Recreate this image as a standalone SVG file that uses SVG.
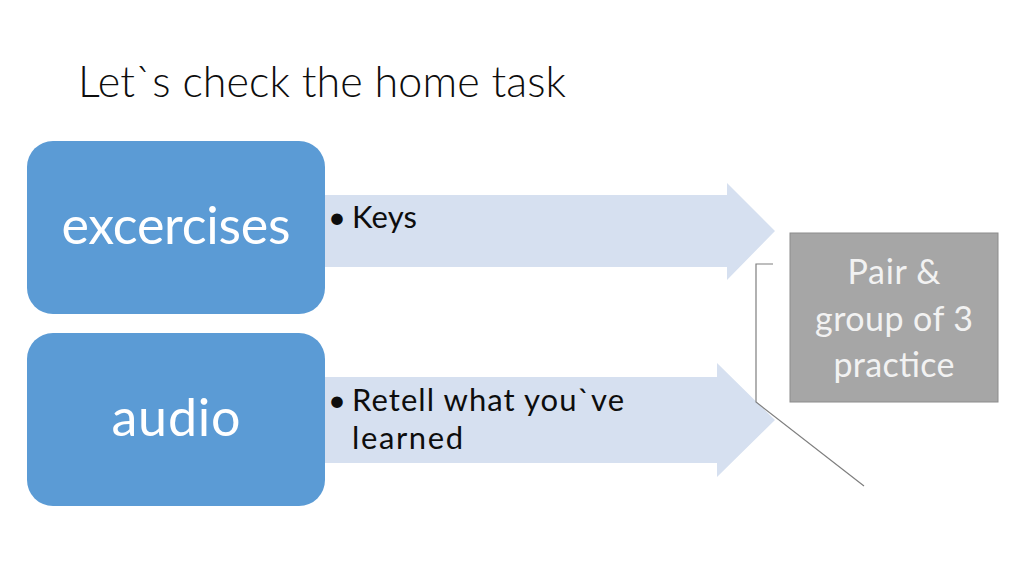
<svg xmlns="http://www.w3.org/2000/svg" width="1024" height="574" viewBox="0 0 1024 574">
<style>
.t{font-family:Lato,"Open Sans","Liberation Sans",sans-serif}
.box{fill:#5b9bd5}
.arr{fill:#d6e0f0}
.wl{fill:#ffffff;font-size:52px;text-anchor:middle}
.bl{fill:#0d0d0d;font-size:31px}
.gl{fill:#f2f2f2;font-size:34px;text-anchor:middle}
</style>
<rect width="1024" height="574" fill="#ffffff"/>
<text class="t" x="78" y="97" font-size="43" font-weight="300" fill="#0d0d0d" textLength="488">Let`s check the home task</text>
<g id="connectors">
<polygon class="arr" points="325,195 727,195 727,183 775,231 727,280 727,267 325,267"/>
<polygon class="arr" points="325,377 717,377 717,363 775,420 717,477 717,463 325,463"/>
<polyline points="773,264 756,264 756,402 864,486" fill="none" stroke="#7f7f7f" stroke-width="1.2"/>
</g>
<g id="excercises">
<rect class="box" x="27" y="141" width="298" height="173" rx="26"/>
<text class="t wl" x="176" y="244" textLength="229">excercises</text>
</g>
<g id="audio">
<rect class="box" x="27" y="333" width="298" height="173" rx="26"/>
<text class="t wl" x="176" y="436" textLength="129">audio</text>
</g>
<g id="keys">
<text class="t bl" x="328" y="228">•</text>
<text class="t bl" x="352" y="228" textLength="65">Keys</text>
</g>
<g id="retell">
<text class="t bl" x="328" y="411">•</text>
<text class="t bl" x="352" y="411" textLength="272">Retell what you`ve</text>
<text class="t bl" x="352" y="449" textLength="111">learned</text>
</g>
<g id="pair">
<rect x="790" y="233" width="208" height="169" fill="#a6a6a6" stroke="#8c8c8c" stroke-width="1"/>
<text class="t gl" x="894" y="284" textLength="93">Pair &amp;</text>
<text class="t gl" x="894" y="331" textLength="158">group of 3</text>
<text class="t gl" x="894" y="377" textLength="121">practice</text>
</g>
</svg>
